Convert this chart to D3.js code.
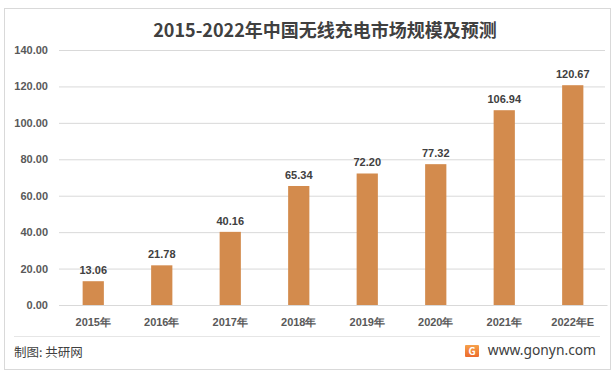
<!DOCTYPE html>
<html><head><meta charset="utf-8">
<script src="https://cdn.jsdelivr.net/npm/d3@7"></script>
<style>body{margin:0;background:#fff;}svg{display:block;font-family:"Noto Sans CJK SC","Microsoft YaHei",sans-serif;}</style>
</head><body>
<script>
const categories = ["2015年","2016年","2017年","2018年","2019年","2020年","2021年","2022年E"];
const values = [13.06,21.78,40.16,65.34,72.20,77.32,106.94,120.67];
const yTicks = [0,20,40,60,80,100,120,140];
const title = "2015-2022年中国无线充电市场规模及预测";

const W=616,H=379;
const svg=d3.select("body").append("svg").attr("width",W).attr("height",H);
svg.append("rect").attr("x",4.5).attr("y",8.5).attr("width",606).attr("height",361)
  .attr("fill","#fff").attr("stroke","#d9d9d9");

const x=d3.scaleBand().domain(categories).range([59,607]).paddingInner(0.69).paddingOuter(0.345);
const y=d3.scaleLinear().domain([0,140]).range([305,50]);

svg.append("text").attr("x",325).attr("y",37).attr("text-anchor","middle")
  .attr("font-size",18).attr("font-weight","bold").attr("fill","#404040").text(title);

const ya=svg.append("g").attr("transform","translate(59,0)")
  .call(d3.axisLeft(y).tickValues(yTicks).tickSize(-546).tickFormat(d3.format(".2f")).tickPadding(11));
ya.select(".domain").remove();
ya.selectAll(".tick line").attr("stroke","#d9d9d9");
ya.selectAll(".tick text").attr("fill","#595959").attr("font-size",11).attr("font-weight","bold")
  .attr("font-family","'Liberation Sans',Arial,sans-serif");

const xa=svg.append("g").attr("transform","translate(0,305)")
  .call(d3.axisBottom(x).tickSize(0).tickPadding(13));
xa.select(".domain").attr("stroke","#d9d9d9");
xa.selectAll(".tick text").attr("fill","#595959").attr("font-size",11).attr("font-weight","bold");

svg.append("g").selectAll("rect").data(values).join("rect")
  .attr("x",(d,i)=>x(categories[i])).attr("width",x.bandwidth())
  .attr("y",d=>y(d)).attr("height",d=>y(0)-y(d)).attr("fill","#D38B4D");

svg.append("g").selectAll("text").data(values).join("text")
  .attr("x",(d,i)=>x(categories[i])+x.bandwidth()/2).attr("y",d=>y(d)-7)
  .attr("text-anchor","middle").attr("font-size",11).attr("font-weight","bold")
  .attr("font-family","'Liberation Sans',Arial,sans-serif")
  .attr("fill","#404040").text(d=>d.toFixed(2));

svg.append("line").attr("x1",14).attr("x2",600).attr("y1",336.5).attr("y2",336.5).attr("stroke","#e6e6e6");
svg.append("text").attr("x",14).attr("y",357).attr("font-size",12.5).attr("fill","#404040").text("制图: 共研网");
const grad=svg.append("defs").append("linearGradient").attr("id","g1").attr("x1",0).attr("y1",0).attr("x2",0).attr("y2",1);
grad.append("stop").attr("offset","0").attr("stop-color","#f6a04a");
grad.append("stop").attr("offset","1").attr("stop-color","#ec6a2c");
svg.append("rect").attr("x",465).attr("y",345).attr("width",14).attr("height",12).attr("fill","url(#g1)").attr("rx",1);
svg.append("text").attr("x",472).attr("y",355).attr("text-anchor","middle").attr("font-size",10).attr("font-weight","bold").attr("fill","#fff").text("G");
svg.append("text").attr("x",596).attr("y",355).attr("text-anchor","end").attr("font-size",13.8).attr("fill","#404040")
  .attr("font-family","'Noto Sans',sans-serif").text("www.gonyn.com");
</script>
</body></html>
